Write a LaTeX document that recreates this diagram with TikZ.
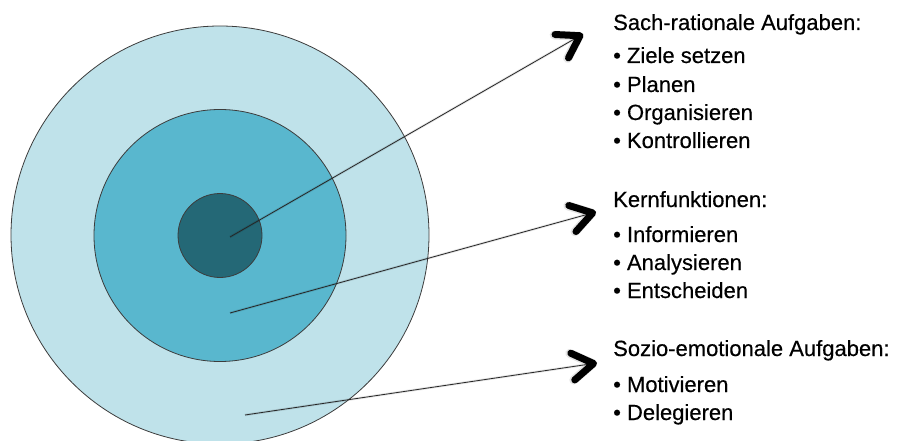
\documentclass[tikz,border=0pt]{standalone}
\usepackage{fontspec}
\setmainfont{Liberation Sans}
\newfontfamily\labelfont[FakeBold=0.4]{Liberation Sans}
\usetikzlibrary{arrows.meta}
\definecolor{ringouter}{RGB}{191,226,234}
\definecolor{ringmid}{RGB}{89,183,206}
\definecolor{ringcore}{RGB}{36,104,118}
\definecolor{ringline}{RGB}{60,60,60}
\tikzset{
  ring/.style={circle, draw=ringline, line width=0.8pt, inner sep=0pt},
  pointer/.style={draw=black!85, line width=0.8pt,
    -{Straight Barb[length=21pt, width=27pt, line width=7pt, round, color=black]}},
  pointershadow/.style={draw=black, opacity=0.10, line width=2.5pt,
    -{Straight Barb[length=21pt, width=27pt, line width=9pt, round]}},
  heading/.style={anchor=base west, inner sep=0pt, font=\labelfont\fontsize{22}{26}\selectfont},
  item/.style={anchor=base west, inner sep=0pt, font=\labelfont\fontsize{22}{26}\selectfont}
}
\begin{document}
\begin{tikzpicture}[x=1pt, y=-1pt]
\useasboundingbox (0,0) rectangle (897,441);
\clip (0,0) rectangle (897,441);

% concentric rings
\node[ring, fill=ringouter, minimum size=418pt] (outer) at (220,235) {};
\node[ring, fill=ringmid, minimum size=252pt] (mid) at (220,235.5) {};
\node[ring, fill=ringcore, minimum size=84pt] (core) at (220,235.5) {};

% pointer ends
\coordinate (s1) at (230,237);
\coordinate (s2) at (230,313);
\coordinate (s3) at (245,415);
\coordinate (t1) at (583,34);
\coordinate (t2) at (596,212);
\coordinate (t3) at (597,363);

% soft shadows under the pointers
\begin{scope}[shift={(2,3)}]
  \draw[pointershadow] (s1) -- (t1);
  \draw[pointershadow] (s2) -- (t2);
  \draw[pointershadow] (s3) -- (t3);
\end{scope}

\draw[pointer] (s1) -- (t1);
\draw[pointer] (s2) -- (t2);
\draw[pointer] (s3) -- (t3);

% task lists
\node[heading] (h1) at (613,30) {Sach-rationale Aufgaben:};
\node[item] (a1) at (613,63) {• Ziele setzen};
\node[item] (a2) at (613,92) {• Planen};
\node[item] (a3) at (613,120) {• Organisieren};
\node[item] (a4) at (613,148) {• Kontrollieren};

\node[heading] (h2) at (613,207) {Kernfunktionen:};
\node[item] (b1) at (613,242) {• Informieren};
\node[item] (b2) at (613,270) {• Analysieren};
\node[item] (b3) at (613,298) {• Entscheiden};

\node[heading] (h3) at (613,356) {Sozio-emotionale Aufgaben:};
\node[item] (c1) at (613,392) {• Motivieren};
\node[item] (c2) at (613,420) {• Delegieren};
\end{tikzpicture}
\end{document}
